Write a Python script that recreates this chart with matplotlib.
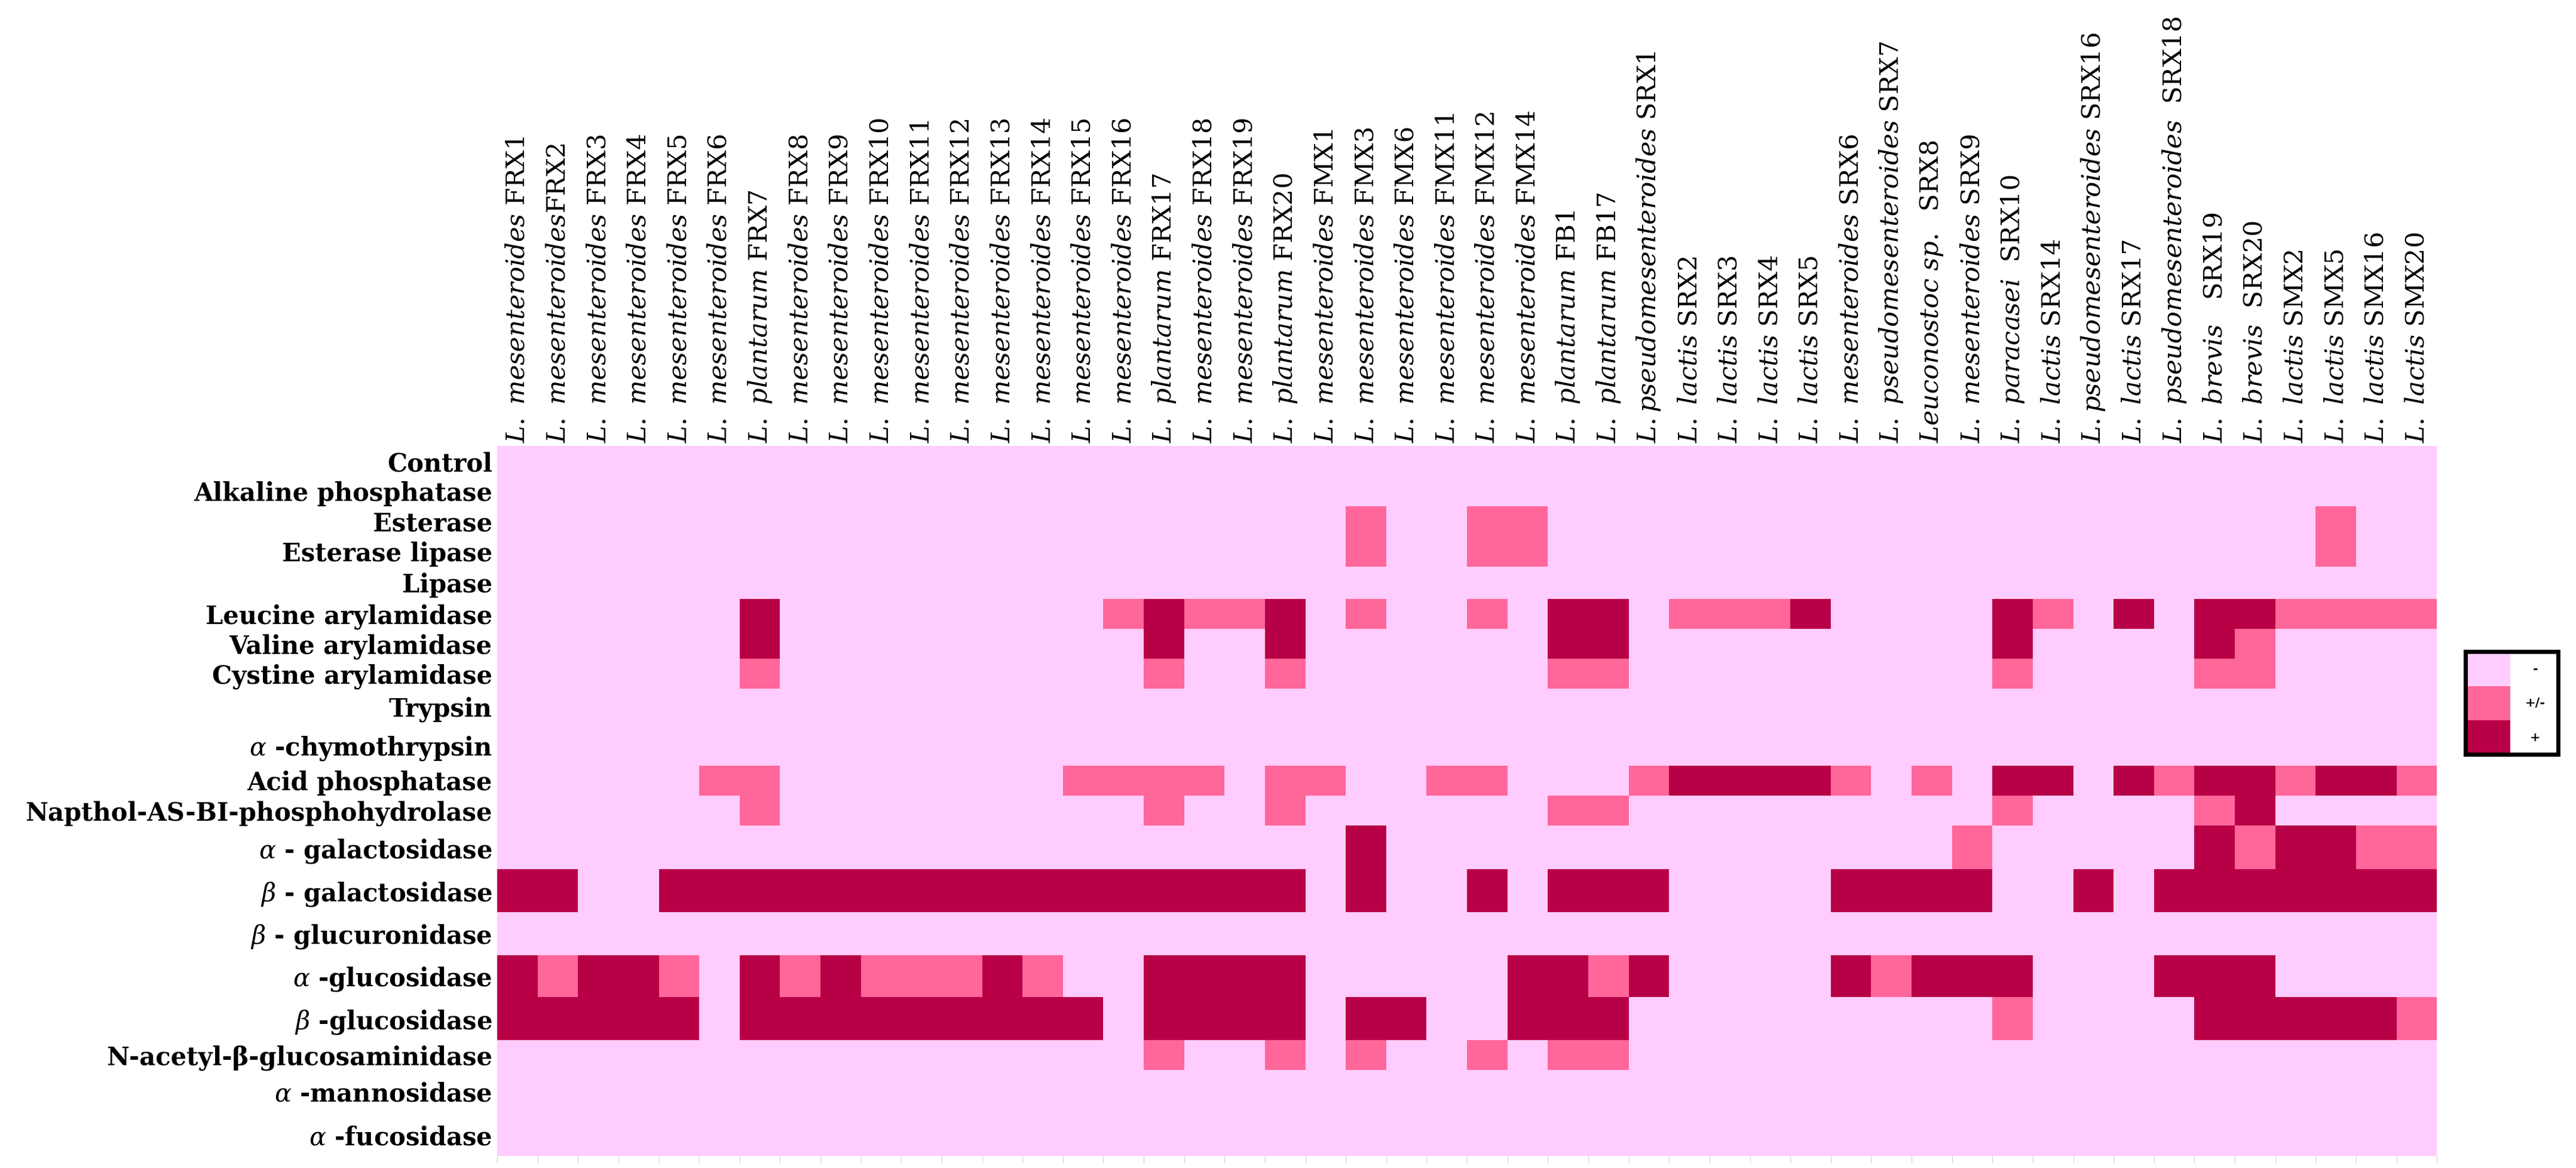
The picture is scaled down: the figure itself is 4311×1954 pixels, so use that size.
import matplotlib
matplotlib.use("Agg")
import matplotlib.pyplot as plt
import numpy as np
from matplotlib.colors import ListedColormap, BoundaryNorm

plt.rcParams['mathtext.fontset'] = 'custom'
plt.rcParams['mathtext.rm'] = 'DejaVu Serif'
plt.rcParams['mathtext.it'] = 'DejaVu Serif:italic'
plt.rcParams['mathtext.bf'] = 'DejaVu Serif:bold'
plt.rcParams['font.family'] = ['DejaVu Serif']

species = ["L. mesenteroides"] * 20 + ["L. mesenteroides"] * 6 + ["L. plantarum"] * 2 + \
    ["L.pseudomesenteroides", "L. lactis", "L. lactis", "L. lactis", "L. lactis", "L. mesenteroides",
     "L. pseudomesenteroides", "Leuconostoc sp.", "L. mesenteroides", "L. paracasei", "L. lactis",
     "L.pseudomesenteroides", "L. lactis", "L. pseudomesenteroides", "L. brevis", "L. brevis",
     "L. lactis", "L. lactis", "L. lactis", "L. lactis"]
species[6] = "L. plantarum"; species[16] = "L. plantarum"; species[19] = "L. plantarum"
strains = ["FRX%d" % i for i in range(1, 21)] + ["FMX1", "FMX3", "FMX6", "FMX11", "FMX12", "FMX14", "FB1", "FB17",
           "SRX1", "SRX2", "SRX3", "SRX4", "SRX5", "SRX6", "SRX7", " SRX8", "SRX9", " SRX10", "SRX14", "SRX16",
           "SRX17", " SRX18", "  SRX19", " SRX20", "SMX2", "SMX5", "SMX16", "SMX20"]
gaps = [" "] * 48
gaps[1] = ""

enzymes = ["Control", "Alkaline phosphatase", "Esterase", "Esterase lipase", "Lipase",
           "Leucine arylamidase", "Valine arylamidase", "Cystine arylamidase", "Trypsin",
           r"$\mathit{\alpha}$ -chymothrypsin", "Acid phosphatase", "Napthol-AS-BI-phosphohydrolase",
           r"$\mathit{\alpha}$ - galactosidase", r"$\mathit{\beta}$ - galactosidase",
           r"$\mathit{\beta}$ - glucuronidase", r"$\mathit{\alpha}$ -glucosidase",
           r"$\mathit{\beta}$ -glucosidase", "N-acetyl-β-glucosaminidase",
           r"$\mathit{\alpha}$ -mannosidase", r"$\mathit{\alpha}$ -fucosidase"]

# 0 = -, 1 = +/-, 2 = +
activity = [
    "00000000 00000000 00000000 00000000 00000000 00000000",
    "00000000 00000000 00000000 00000000 00000000 00000000",
    "00000000 00000000 00000100 11000000 00000000 00000100",
    "00000000 00000000 00000100 11000000 00000000 00000100",
    "00000000 00000000 00000000 00000000 00000000 00000000",
    "00000020 00000001 21120100 10220111 20000210 20221111",
    "00000020 00000000 20020000 00220000 00000200 00210000",
    "00000010 00000000 10010000 00110000 00000100 00110000",
    "00000000 00000000 00000000 00000000 00000000 00000000",
    "00000000 00000000 00000000 00000000 00000000 00000000",
    "00000110 00000011 11011001 10001222 21010220 21221221",
    "00000010 00000000 10010000 00110000 00000100 00120000",
    "00000000 00000000 00000200 00000000 00001000 00212211",
    "22002222 22222222 22220200 20222000 02222002 02222222",
    "00000000 00000000 00000000 00000000 00000000 00000000",
    "21221021 21112100 22220000 02212000 02122200 02220000",
    "22222022 22222220 22220220 02220000 00000100 00222221",
    "00000000 00000000 10010100 10110000 00000000 00000000",
    "00000000 00000000 00000000 00000000 00000000 00000000",
    "00000000 00000000 00000000 00000000 00000000 00000000",
]
row_heights = [40, 40, 40, 40, 43, 40, 40, 40, 47, 55, 40, 40, 58, 57, 57, 56, 57, 40, 58, 57]
legend_labels = ["-", "+/-", "+"]

M = np.array([[int(c) for c in r.replace(" ", "")] for r in activity])
colors = ["#FFCCFF", "#FF6699", "#B80046"]
cmap = ListedColormap(colors)
norm = BoundaryNorm([-0.5, 0.5, 1.5, 2.5], 3)

fig = plt.figure(figsize=(43.11, 19.54), dpi=100)
ax = fig.add_axes([0.193, 0.01, 0.753, 0.608])
xe = np.arange(M.shape[1] + 1)
ye = np.concatenate([[0], np.cumsum(row_heights)])
ax.pcolormesh(xe, ye, M, cmap=cmap, norm=norm)
ax.set_xlim(0, M.shape[1]); ax.set_ylim(ye[-1], 0)
for s in ax.spines.values():
    s.set_visible(False)
yc = (ye[:-1] + ye[1:]) / 2
ax.set_yticks(yc)
ax.set_yticklabels(enzymes, fontsize=30, fontweight='bold')
ax.tick_params(axis='y', length=0, pad=6)
ax.set_xticks(xe)
ax.set_xticklabels([])
ax.tick_params(axis='x', length=8, color='#cccccc', direction='out')
for i, (sp, st) in enumerate(zip(species, strains)):
    lab = r"$\mathit{" + sp.replace(" ", r"\ ") + "}$" + gaps[i] + st
    ax.text(i + 0.5, -4, lab, rotation=90, ha='center', va='bottom', fontsize=31)

lax = fig.add_axes([0.957, 0.354, 0.036, 0.088])
lax.pcolormesh([0, 1], [0, 1, 2, 3], np.array([[0], [1], [2]]), cmap=cmap, norm=norm)
lax.set_xlim(0, 2.05); lax.set_ylim(3, 0)
for k, t in enumerate(legend_labels):
    lax.text(1.55, k + 0.5, t, ha='center', va='center', fontsize=15, fontweight='bold')
lax.set_xticks([]); lax.set_yticks([])
for s in lax.spines.values():
    s.set_linewidth(5); s.set_color('black')

fig.savefig("out.png", dpi=100)
